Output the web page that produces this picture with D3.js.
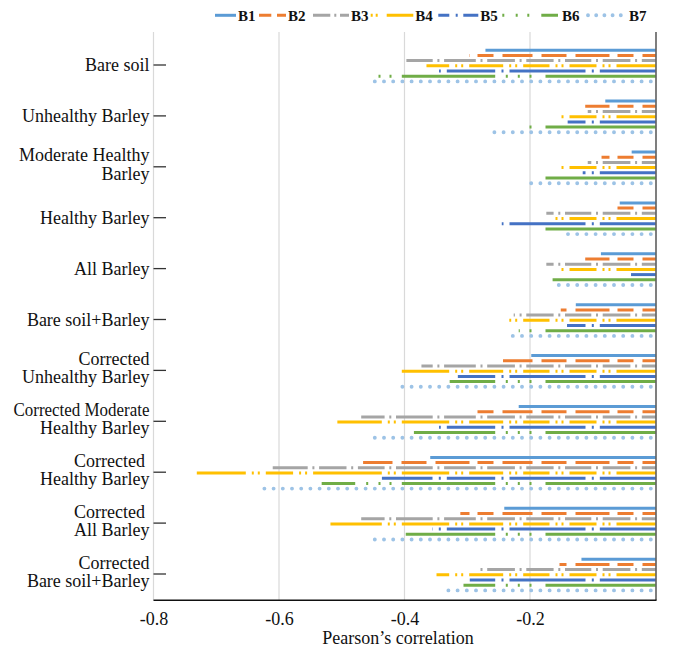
<!DOCTYPE html>
<html>
<head>
<meta charset="utf-8">
<script src="https://cdn.jsdelivr.net/npm/d3@7"></script>
<style>
  body { margin: 0; background: #fff; }
  text { font-family: "Liberation Serif", "Times New Roman", serif; fill: #111; }
</style>
</head>
<body>
<svg id="chart" width="673" height="650"></svg>
<script>
// categories top to bottom, "\n" = line break in the axis label
var categories = [
  "Bare soil",
  "Unhealthy Barley",
  "Moderate Healthy\nBarley",
  "Healthy Barley",
  "All Barley",
  "Bare soil+Barley",
  "Corrected\nUnhealthy Barley",
  "Corrected Moderate\nHealthy Barley",
  "Corrected\u00a0\nHealthy Barley",
  "Corrected\u00a0\nAll Barley",
  "Corrected\nBare soil+Barley"
];
var seriesNames = ["B1", "B2", "B3", "B4", "B5", "B6", "B7"];

// Pearson's correlation per band
var B1 = [-0.271, -0.080, -0.038, -0.057, -0.087, -0.127, -0.198, -0.218, -0.359, -0.241, -0.118];
var B2 = [-0.297, -0.112, -0.086, -0.073, -0.112, -0.151, -0.243, -0.291, -0.466, -0.311, -0.153];
var B3 = [-0.397, -0.108, -0.108, -0.174, -0.174, -0.226, -0.373, -0.469, -0.610, -0.469, -0.280];
var B4 = [-0.365, -0.150, -0.150, -0.160, -0.150, -0.233, -0.413, -0.507, -0.731, -0.518, -0.349];
var B5 = [-0.345, -0.140, -0.116, -0.245, -0.039, -0.141, -0.315, -0.345, -0.436, -0.356, -0.296];
var B6 = [-0.445, -0.209, -0.190, -0.190, -0.164, -0.218, -0.328, -0.385, -0.532, -0.398, -0.306];
var B7 = [-0.460, -0.268, -0.211, -0.153, -0.166, -0.228, -0.404, -0.448, -0.636, -0.459, -0.341];

var xTicks = [-0.8, -0.6, -0.4, -0.2];

// ---- styles ----
var colors = ["#5B9BD5", "#ED7D31", "#A5A5A5", "#FFC000", "#4472C4", "#70AD47", "#9DC3E6"];

var joinDashes = function(dashes, sep) { return dashes.join("," + sep + ",") + "," + sep; };
// dash patterns start at the zero end of each bar
var dashes = [
  { arr: null, off: 0, cap: "butt" },
  { arr: "30,9,16,8,34,9,25,9", off: 17, cap: "butt" },
  { arr: joinDashes([13.7,27.7,26.3,27.3,27.7,31.7,36.7,26.7,27.4,35.4,27.5,27.5], "4.7,2,4.7"), off: 0, cap: "butt" },
  { arr: joinDashes([39,27,26.3,34,47.4,68.7,27.3,60,30,30], "6,2,4,2,6"), off: 0, cap: "butt" },
  { arr: joinDashes([55.7,76,48.4,70,50], "6,2,6.3"), off: 0, cap: "butt" },
  { arr: "110,14,2,9.7,2,10,2,10.6,93.4,10.3,2,9,2,10.3,2,11,80,12,2,10,2,10,2,12", off: 0, cap: "butt" },
  { arr: "0,9.2", off: 4.5, cap: "round" }
];
// legend samples: [start, end] x and pattern
var legendSamples = [
  { x0: 215, x1: 236, arr: null, cap: "butt" },
  { x0: 259, x1: 286, arr: "12.3,5.7,9", cap: "butt" },
  { x0: 313, x1: 349, arr: "17.3,4,2,3.7,10", cap: "butt" },
  { x0: 370.7, x1: 413.3, arr: "2,3,2,9,27", cap: "butt" },
  { x0: 438.3, x1: 478.3, arr: "11,6.4,2,5.6,15", cap: "butt" },
  { x0: 502.3, x1: 560, arr: "2,11.4,2,9.6,2,12,16.7", cap: "butt" },
  { x0: 588, x1: 627, arr: "0,8.2", cap: "round" }
];

var seriesValues = [B1, B2, B3, B4, B5, B6, B7];
var data = [];
categories.forEach(function(c, ci) {
  seriesNames.forEach(function(s, si) {
    data.push({ cat: c, series: s, si: si, value: seriesValues[si][ci] });
  });
});

var svg = d3.select("#chart");
svg.append("rect").attr("width", 673).attr("height", 650).attr("fill", "#fff");

var plotTop = 32, plotBottom = 600.3;
var x = d3.scaleLinear().domain([-0.8, 0]).range([153.5, 655.5]);
var y = d3.scaleBand().domain(categories).range([40.35, 600.25]).paddingInner(0).paddingOuter(0);
var yInner = d3.scalePoint().domain(seriesNames).range([-15.6, 15.6]);

// gridlines
svg.append("g").selectAll("line")
  .data(xTicks)
  .enter().append("line")
    .attr("x1", function(d) { return x(d); })
    .attr("x2", function(d) { return x(d); })
    .attr("y1", plotTop)
    .attr("y2", plotBottom)
    .attr("stroke", "#d9d9d9")
    .attr("stroke-width", 1.2);

// bars, drawn from 0 towards the value
svg.append("g").selectAll("line")
  .data(data)
  .enter().append("line")
    .attr("x1", x(0))
    .attr("x2", function(d) { return x(d.value); })
    .attr("y1", function(d) { return y(d.cat) + y.bandwidth() / 2 + yInner(d.series); })
    .attr("y2", function(d) { return y(d.cat) + y.bandwidth() / 2 + yInner(d.series); })
    .attr("stroke", function(d) { return colors[d.si]; })
    .attr("stroke-width", function(d) { return d.si == 6 ? 3.9 : 3; })
    .attr("stroke-linecap", function(d) { return dashes[d.si].cap; })
    .attr("stroke-dasharray", function(d) { return dashes[d.si].arr; })
    .attr("stroke-dashoffset", function(d) { return dashes[d.si].off; });

// right axis line (value 0)
svg.append("line")
  .attr("x1", x(0) + 0.5).attr("x2", x(0) + 0.5)
  .attr("y1", plotTop).attr("y2", plotBottom)
  .attr("stroke", "#3a3a3a").attr("stroke-width", 1.3);

// bottom axis
var xAxis = d3.axisBottom(x)
  .tickValues(xTicks)
  .tickSize(0)
  .tickPadding(12)
  .tickFormat(d3.format(".1f"));

var gx = svg.append("g")
  .attr("transform", "translate(0," + plotBottom + ")")
  .call(xAxis);
gx.select(".domain").attr("d", "M" + x(-0.8) + ",0H" + (x(0) + 1)).attr("stroke", "#111").attr("stroke-width", 1.5);
gx.selectAll("text")
  .text(function(d) { return d3.format(".1f")(d).replace("\u2212", "-"); })
  .attr("font-family", "Liberation Serif")
  .attr("font-size", 18)
  .attr("fill", "#111");

svg.append("text")
  .attr("x", 398)
  .attr("y", 644)
  .attr("text-anchor", "middle")
  .attr("font-size", 18)
  .text("Pearson\u2019s correlation");

// category ticks + labels
var gy = svg.append("g");
categories.forEach(function(c) {
  var ty = y(c) + y.bandwidth() / 2 - 0.8;
  gy.append("line")
    .attr("x1", x(-0.8)).attr("x2", x(-0.8) + 12.5)
    .attr("y1", ty).attr("y2", ty)
    .attr("stroke", "#333").attr("stroke-width", 1.3);
  var lines = c.split("\n");
  var t = gy.append("text")
    .attr("text-anchor", "end")
    .attr("font-size", 18);
  lines.forEach(function(l, li) {
    var by = lines.length == 1 ? ty + 6.3 : (li == 0 ? ty - 5.5 : ty + 13);
    var sp = t.append("tspan").attr("x", 149.5).attr("y", by).text(l);
    // the source squeezes this one line a little
    if (l == "Corrected Moderate") sp.attr("textLength", 136).attr("lengthAdjust", "spacingAndGlyphs");
  });
});

// legend
var lg = svg.append("g");
seriesNames.forEach(function(s, i) {
  var ls = legendSamples[i];
  lg.append("line")
    .attr("x1", ls.x0).attr("x2", ls.x1)
    .attr("y1", 15.3).attr("y2", 15.3)
    .attr("stroke", colors[i])
    .attr("stroke-width", i == 6 ? 3.9 : 3)
    .attr("stroke-linecap", ls.cap)
    .attr("stroke-dasharray", ls.arr);
  lg.append("text")
    .attr("x", ls.x1 + 2)
    .attr("y", 20.5)
    .attr("font-size", 15)
    .attr("font-weight", "bold")
    .attr("fill", "#222")
    .text(s);
});
</script>
</body>
</html>
